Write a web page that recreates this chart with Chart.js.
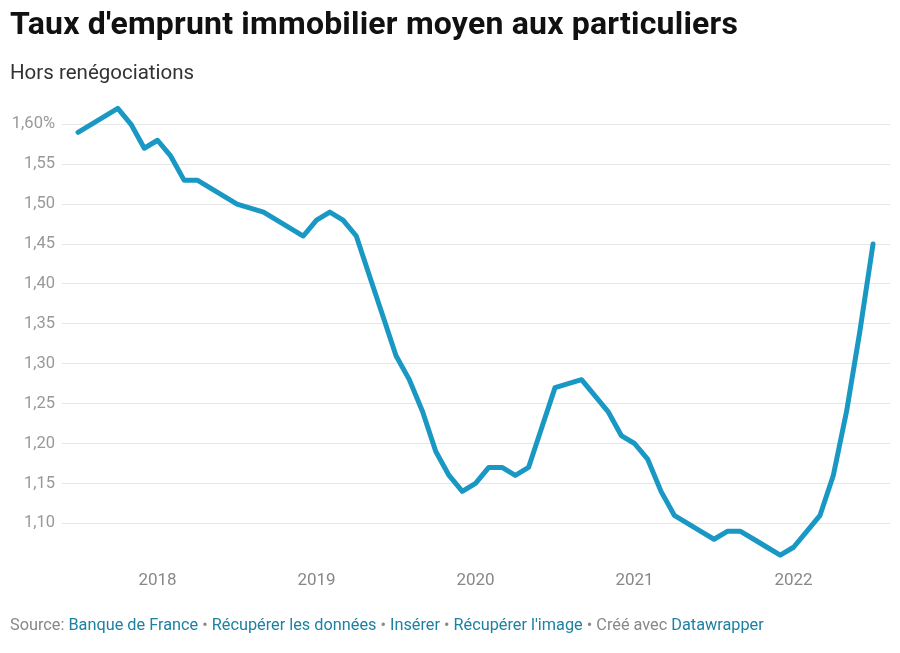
<!DOCTYPE html>
<html>
<head>
<meta charset="utf-8">
<script src="https://cdn.jsdelivr.net/npm/chart.js@4"></script>
<style>
  html, body { margin: 0; padding: 0; background: #fff; }
  body { width: 900px; height: 653px; position: relative; overflow: hidden; font-family: Roboto, "Noto Sans", sans-serif; }
  #title { position: absolute; left: 10px; top: 4px; font-size: 32px; font-weight: 700; color: #111; letter-spacing: 0.2px; }
  #subtitle { position: absolute; left: 10px; top: 60px; font-size: 20.5px; color: #333; }
  #footer { position: absolute; left: 10px; top: 615px; font-size: 16.3px; color: #888; }
  #footer a { color: #1d81a2; text-decoration: none; }
  #wrap { position: absolute; left: 0; top: 0; width: 900px; height: 653px; }
</style>
</head>
<body>
<div id="wrap"><canvas id="rateChart"></canvas></div>
<div id="title">Taux d'emprunt immobilier moyen aux particuliers</div>
<div id="subtitle">Hors renégociations</div>
<div id="footer">Source: <a>Banque de France</a> • <a>Récupérer les données</a> • <a>Insérer</a> • <a>Récupérer l'image</a> • Créé avec <a>Datawrapper</a></div>
<script>
// monthly, July 2017 -> July 2022
const months = [
  '2017-07','2017-08','2017-09','2017-10','2017-11','2017-12',
  '2018-01','2018-02','2018-03','2018-04','2018-05','2018-06','2018-07','2018-08','2018-09','2018-10','2018-11','2018-12',
  '2019-01','2019-02','2019-03','2019-04','2019-05','2019-06','2019-07','2019-08','2019-09','2019-10','2019-11','2019-12',
  '2020-01','2020-02','2020-03','2020-04','2020-05','2020-06','2020-07','2020-08','2020-09','2020-10','2020-11','2020-12',
  '2021-01','2021-02','2021-03','2021-04','2021-05','2021-06','2021-07','2021-08','2021-09','2021-10','2021-11','2021-12',
  '2022-01','2022-02','2022-03','2022-04','2022-05','2022-06','2022-07'
];
const rates = [
  1.59, 1.60, 1.61, 1.62, 1.60, 1.57,
  1.58, 1.56, 1.53, 1.53, 1.52, 1.51, 1.50, 1.495, 1.49, 1.48, 1.47, 1.46,
  1.48, 1.49, 1.48, 1.46, 1.41, 1.36, 1.31, 1.28, 1.24, 1.19, 1.16, 1.14,
  1.15, 1.17, 1.17, 1.16, 1.17, 1.22, 1.27, 1.275, 1.28, 1.26, 1.24, 1.21,
  1.20, 1.18, 1.14, 1.11, 1.10, 1.09, 1.08, 1.09, 1.09, 1.08, 1.07, 1.06,
  1.07, 1.09, 1.11, 1.16, 1.24, 1.34, 1.45
];
const yearTicks = ['2018', '2019', '2020', '2021', '2022'];
const yTicks = [1.10, 1.15, 1.20, 1.25, 1.30, 1.35, 1.40, 1.45, 1.50, 1.55, 1.60];

const points = rates.map((v, i) => ({ x: i, y: v }));
const yearIdx = yearTicks.map(y => months.indexOf(y + '-01'));

new Chart(document.getElementById('rateChart'), {
  type: 'line',
  data: {
    datasets: [{
      data: points,
      borderColor: '#1a98c4',
      borderWidth: 5,
      borderJoinStyle: 'round',
      borderCapStyle: 'round',
      pointRadius: 0,
      tension: 0,
      clip: false
    }]
  },
  options: {
    responsive: true,
    maintainAspectRatio: false,
    animation: false,
    layout: { padding: { left: 0, right: 10, top: 84.4, bottom: 59.8 } },
    plugins: { legend: { display: false }, tooltip: { enabled: false } },
    scales: {
      x: {
        type: 'linear',
        min: -1.21,
        max: 61.28,
        afterBuildTicks: s => { s.ticks = yearIdx.map(v => ({ value: v })); },
        afterFit: s => { s.height = 30; },
        grid: { display: false, drawTicks: false },
        border: { display: false },
        ticks: {
          padding: 7,
          color: '#888',
          font: { family: 'Roboto', size: 17 },
          callback: v => yearTicks[yearIdx.indexOf(v)] || ''
        }
      },
      y: {
        min: 1.05,
        max: 1.65,
        afterBuildTicks: s => { s.ticks = yTicks.map(v => ({ value: v })); },
        afterFit: s => { s.width = 62; },
        grid: { color: '#e6e6e6', lineWidth: 1, drawTicks: false },
        border: { display: false },
        ticks: {
          padding: 7,
          color: '#999',
          font: { family: 'Roboto', size: 16.5 },
          callback: v => v.toFixed(2).replace('.', ',') + (Math.abs(v - 1.60) < 1e-6 ? '%' : '')
        }
      }
    }
  }
});
</script>
</body>
</html>
